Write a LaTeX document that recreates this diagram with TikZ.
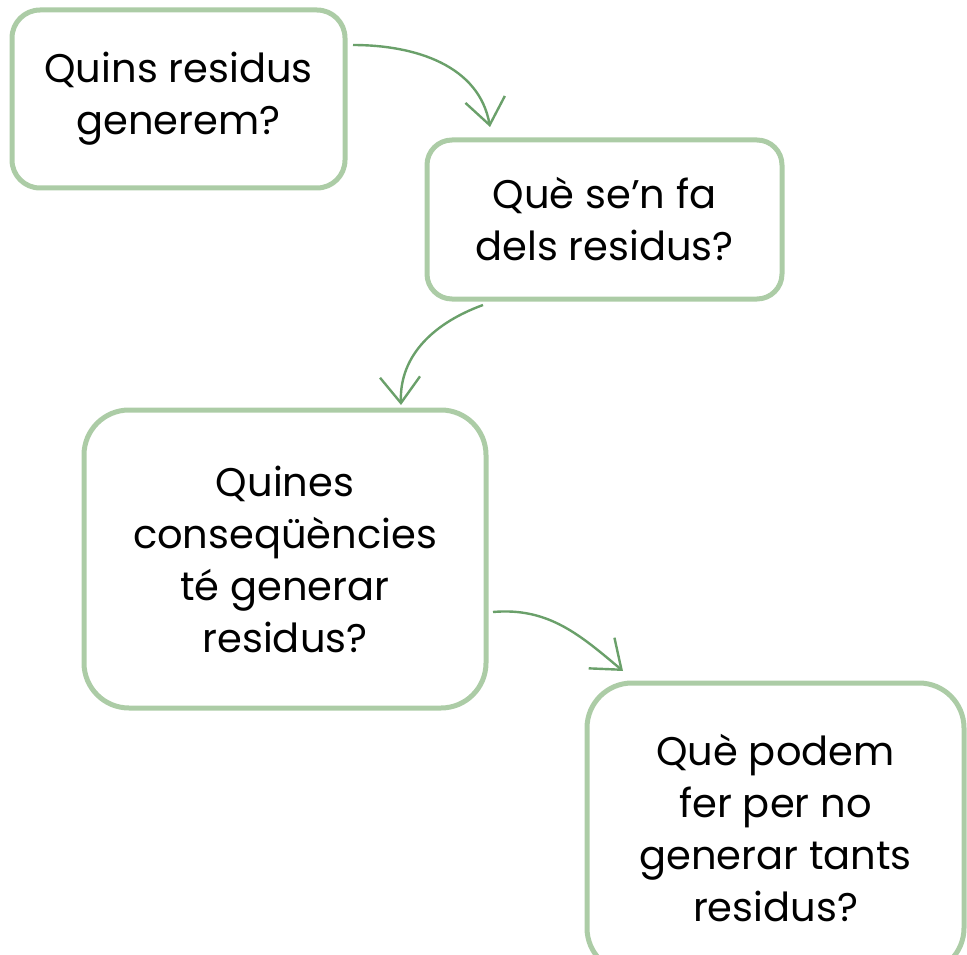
\documentclass[tikz,border=0pt]{standalone}
\usepackage{fontspec}
\setmainfont{Poppins}
\usetikzlibrary{arrows.meta}
\usetikzlibrary{calc}
\usetikzlibrary{positioning}

\definecolor{boxgreen}{RGB}{172,204,166}
\definecolor{arrowgreen}{RGB}{106,160,106}

\begin{document}
\begin{tikzpicture}[x=1pt,y=-1pt,
        qbox/.style={draw=boxgreen, line width=5pt, rounded corners=#1,
            outer sep=0pt, inner sep=0pt, align=center,
            font=\fontsize{40}{52}\selectfont},
        qbox/.default=28pt,
        flow/.style={draw=arrowgreen, line width=2.4pt,
            -{Straight Barb[length=26pt,width=40pt]}}]
        \useasboundingbox (0,0) rectangle (967,955);

        \node[qbox, minimum width=333pt, minimum height=178pt] (q1) at (178.5,99)
            {Quins residus\\generem?};
        \node[qbox=25pt, minimum width=355pt, minimum height=159pt,
            below right=130pt and 82pt of q1.north east] (q2)
            {Què se’n fa\\dels residus?};
        \node[qbox=45pt, minimum width=402pt, minimum height=298pt,
            below right=222pt and 72pt of q1.south west] (q3)
            {Quines\\conseqüències\\té generar\\residus?};
        \node[qbox=45pt, minimum width=377pt, minimum height=290pt,
            below right=273pt and 101pt of q3.north east] (q4)
            {Què podem\\fer per no\\generar tants\\residus?};

        \draw[flow] ([shift={(8,35)}]q1.north east) to[out=0, in=100]
            ([shift={(63,-13)}]q2.north west);
        \draw[flow] ([shift={(56,6)}]q2.south west) to[out=200, in=92]
            ([shift={(317,-5)}]q3.north west);
        \draw[flow] ([shift={(7,202)}]q3.north east) to[out=5, in=140]
            ([shift={(36,-12)}]q4.north west);
    \end{tikzpicture}
\end{document}
